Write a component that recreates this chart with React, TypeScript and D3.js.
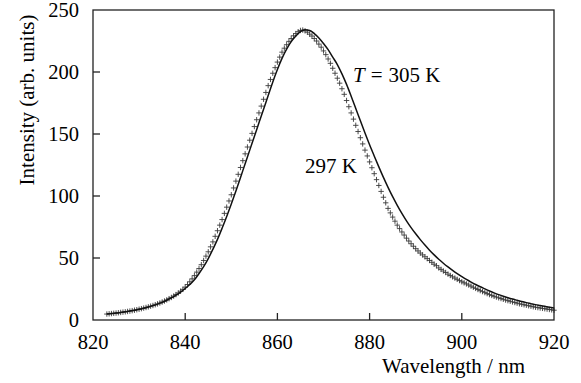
import React, { useRef, useEffect } from "react";
import * as d3 from "d3";

// 297 K spectrum (crosses), sampled every 0.5 nm from 823 to 920 nm
const CROSS_START = 823;
const CROSS_STEP = 0.5;
const crossValues = [
  4.8, 5.0, 5.2, 5.4, 5.6, 5.85, 6.1, 6.35, 6.6, 6.9,
  7.2, 7.55, 7.9, 8.3, 8.7, 9.15, 9.6, 10.1, 10.6, 11.15,
  11.7, 12.35, 13.0, 13.7, 14.5, 15.3, 16.2, 17.2, 18.2, 19.3,
  20.5, 21.8, 23.2, 24.7, 26.5, 28.6, 30.8, 33.2, 35.8, 38.6,
  41.5, 44.6, 48, 51.5, 55, 59, 63, 67.5, 72, 76.5,
  81, 86, 91, 96, 101, 106.5, 112, 117.5, 123, 128.5,
  134, 139.5, 145, 150.5, 156, 161.5, 167, 172.5, 178, 183.5,
  189, 194, 199, 203.5, 208, 212, 216, 219.2, 222, 224.7,
  227, 229.2, 231, 232.5, 233.5, 233.8, 233.2, 232.1, 230.5, 229,
  227, 225, 222.5, 220, 217, 214, 210.5, 207, 203, 199,
  195, 191, 186.5, 182, 177, 172, 167, 162, 157, 152,
  147, 142, 137, 132.3, 127.5, 122.8, 118, 113.2, 108.5, 103.7,
  99, 94.5, 90, 86.4, 83, 79.7, 76.5, 73.7, 71, 68.5,
  66, 63.7, 61.5, 59.5, 57.5, 55.7, 54, 52.5, 51, 49.5,
  48, 46.5, 45, 43.8, 42, 40.8, 39.5, 38.3, 37, 35.9,
  34.8, 33.8, 32.8, 31.8, 30.8, 30, 29.1, 28.2, 27.3, 26.4,
  25.5, 24.6, 23.7, 22.9, 22.1, 21.3, 20.5, 19.8, 19.1, 18.5,
  17.9, 17.3, 16.7, 16.1, 15.6, 15.1, 14.6, 14.1, 13.6, 13.1,
  12.7, 12.3, 11.9, 11.5, 11.1, 10.7, 10.3, 10.0, 9.7, 9.4,
  9.1, 8.8, 8.5, 8.2, 7.9
];

// 305 K spectrum (solid line), every 1 nm from 823 to 920 nm
const LINE_START = 823;
const lineValues = [
  4.8, 5.2, 5.6, 6.1, 6.6, 7.2, 7.9, 8.6, 9.5, 10.5,
  11.6, 12.8, 14.2, 15.9, 17.8, 20.0, 22.5, 25.4, 28.6, 32.4,
  37.5, 43, 49.5, 57, 65, 74, 83.5, 93.5, 104, 115,
  126, 137, 148, 159, 170, 181, 192, 202, 211, 218.5,
  224.5, 229, 232.5, 234, 233.5, 231, 227.5, 223, 218, 212,
  206, 198.5, 190, 180.5, 170.6, 160.6, 150.8, 141.3, 132.3, 123.5,
  115, 107, 99.5, 92.5, 86, 80, 74.5, 69.5, 64.8, 60.4,
  56.3, 52.5, 49, 45.8, 42.8, 40, 37.4, 35, 32.7, 30.6,
  28.6, 26.8, 25.1, 23.4, 21.9, 20.5, 19.2, 18.0, 16.9, 15.9,
  14.9, 14.0, 13.2, 12.4, 11.7, 11.0, 10.3, 9.7
];

const xTicks = [820, 840, 860, 880, 900, 920];
const yTicks = [0, 50, 100, 150, 200, 250];

const FONT = "Liberation Serif, Times New Roman, DejaVu Serif, serif";

export default function App() {
  const svgRef = useRef<SVGSVGElement>(null);

  useEffect(() => {
    const svg = d3.select(svgRef.current);
    const width = 581;
    const height = 383;
    const margin = { top: 10, right: 27, bottom: 63, left: 93 };

    svg.attr("width", width).attr("height", height)
      .attr("font-family", FONT);
    svg.selectAll("*").remove();

    const x = d3.scaleLinear().domain([820, 920]).range([margin.left, width - margin.right]);
    const y = d3.scaleLinear().domain([0, 250]).range([height - margin.bottom, margin.top]);

    const crosses = crossValues.map((v, i) => [CROSS_START + i * CROSS_STEP, v]);
    const line = lineValues.map((v, i) => [LINE_START + i, v]);

    // Crosses (297 K)
    const s = 2.7;
    svg.append("g")
      .selectAll("path")
      .data(crosses)
      .join("path")
      .attr("d", d => {
        const cx = x(d[0]), cy = y(d[1]);
        return `M${cx - s},${cy}H${cx + s}M${cx},${cy - s}V${cy + s}`;
      })
      .attr("stroke", "#3a3a3a")
      .attr("stroke-width", 0.9)
      .attr("fill", "none");

    // Line (305 K)
    svg.append("path")
      .datum(line)
      .attr("fill", "none")
      .attr("stroke", "#111")
      .attr("stroke-width", 1.5)
      .attr("d", d3.line<number[]>().x(d => x(d[0])).y(d => y(d[1])).curve(d3.curveMonotoneX));

    // Frame
    svg.append("rect")
      .attr("x", x(820))
      .attr("y", y(250))
      .attr("width", x(920) - x(820))
      .attr("height", y(0) - y(250))
      .attr("fill", "none")
      .attr("stroke", "#222")
      .attr("stroke-width", 1.3);

    // Ticks (inward)
    svg.append("g")
      .selectAll("line")
      .data(xTicks.slice(1, -1))
      .join("line")
      .attr("x1", d => x(d)).attr("x2", d => x(d))
      .attr("y1", y(0)).attr("y2", y(0) - 7)
      .attr("stroke", "#222").attr("stroke-width", 1.3);

    svg.append("g")
      .selectAll("line")
      .data(yTicks.slice(1, -1))
      .join("line")
      .attr("x1", x(820)).attr("x2", x(820) + 7)
      .attr("y1", d => y(d)).attr("y2", d => y(d))
      .attr("stroke", "#222").attr("stroke-width", 1.3);

    // Tick labels
    svg.append("g")
      .selectAll("text")
      .data(xTicks)
      .join("text")
      .attr("x", d => x(d))
      .attr("y", y(0) + 29)
      .attr("text-anchor", "middle")
      .attr("font-size", 20.5)
      .text(d => d);

    svg.append("g")
      .selectAll("text")
      .data(yTicks)
      .join("text")
      .attr("x", x(820) - 14)
      .attr("y", d => y(d) + 7)
      .attr("text-anchor", "end")
      .attr("font-size", 20.5)
      .text(d => d);

    // Axis titles
    svg.append("text")
      .attr("transform", `translate(34, 100) rotate(-90)`)
      .attr("text-anchor", "middle")
      .attr("font-size", 21)
      .text("Intensity (arb. units)");

    svg.append("text")
      .attr("x", 525)
      .attr("y", 373)
      .attr("text-anchor", "end")
      .attr("font-size", 21)
      .text("Wavelength / nm");

    // Curve labels
    const t = svg.append("text")
      .attr("x", 353)
      .attr("y", 82)
      .attr("font-size", 21);
    t.append("tspan").attr("font-style", "italic").text("T");
    t.append("tspan").attr("dx", 6).text("=");
    t.append("tspan").attr("dx", 6).text("305 K");

    svg.append("text")
      .attr("x", 305)
      .attr("y", 173)
      .attr("font-size", 21)
      .text("297 K");
  }, []);

  return <svg ref={svgRef} style={{ position: "absolute", left: 0, top: 0, background: "#fff" }}></svg>;
}
